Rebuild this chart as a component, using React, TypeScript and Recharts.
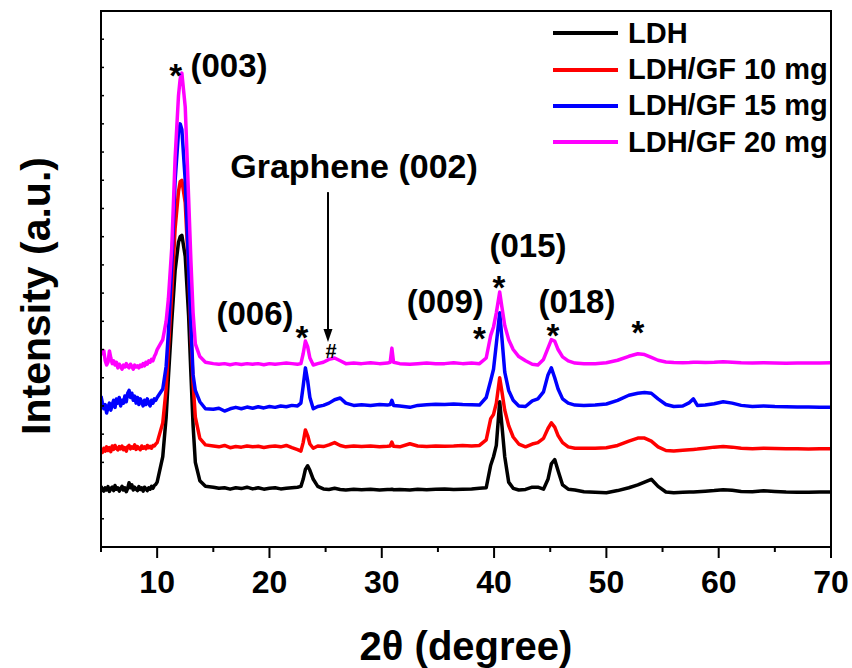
import React from "react";
import {
  LineChart,
  Line,
  XAxis,
  YAxis,
  Label,
  ReferenceDot,
  ReferenceLine,
} from "recharts";

const FONT = '"Liberation Sans", Arial, Helvetica, sans-serif';

// 2θ sampling points (degree)
const twoTheta = [
  5.0, 5.125, 5.25, 5.375, 5.5, 5.625, 5.75, 5.875, 6.0, 6.125, 6.25, 6.375, 6.5, 6.625, 6.75, 6.875, 7.0, 7.125, 7.25, 7.375,
  7.5, 7.625, 7.75, 7.875, 8.0, 8.125, 8.25, 8.375, 8.5, 8.625, 8.75, 8.875, 9.0, 9.125, 9.25, 9.375, 9.5, 9.625, 9.75, 9.875,
  10.0, 10.5, 10.8, 11.0, 11.3, 11.6, 11.9, 12.05, 12.2, 12.5, 12.8, 13.0, 13.2, 13.4, 13.8, 14.3,
  15.0, 15.5, 16.0, 16.5, 17.0, 17.5, 18.0, 18.5, 19.0, 19.5, 20.0, 20.5, 21.0, 21.5, 22.0, 22.5,
  22.8, 23.0, 23.2, 23.4, 23.6, 23.9, 24.3, 24.8, 25.3, 25.8, 26.3, 26.8, 27.5, 28.2, 29.0, 29.8, 30.5,
  30.75, 30.9, 31.05, 31.6, 32.5, 33.2, 34.0, 34.8, 35.6, 36.4, 37.2, 38.0, 38.7, 39.3,
  39.7, 39.95, 40.2, 40.5, 40.7, 40.95, 41.3, 41.7, 42.2, 42.8, 43.4, 43.9, 44.4, 44.8, 45.1, 45.4, 45.7, 46.1, 46.6, 47.2,
  48.0, 49.0, 50.0, 51.0, 52.0, 52.8, 53.4, 54.0, 54.6, 55.3, 56.0, 56.8, 57.4, 57.75, 58.1, 58.8, 59.6, 60.4, 61.2, 62.0, 63.0, 64.0, 65.0, 66.0, 67.0, 68.0, 69.0, 70.0,
];

// intensities (a.u., curves already offset as in the figure)
const ldh = [
  2.15, 2.05, 1.98, 2.1, 2.02, 2.14, 1.97, 2.08, 2.12, 2.0, 2.18, 2.05, 2.1, 1.98, 2.06, 2.15, 2.02, 2.1, 1.96, 2.08,
  2.28, 2.1, 2.2, 2.02, 2.12, 2.05, 2.0, 2.14, 2.04, 2.1, 1.98, 2.12, 2.06, 2.0, 2.1, 2.05, 2.15, 2.08, 2.18, 2.22,
  2.3, 3.2, 4.6, 6.0, 8.0, 9.8, 10.8, 11.0, 11.05, 10.3, 8.2, 6.2, 4.3, 3.0, 2.35, 2.15,
  2.12, 2.08, 2.1, 2.05, 2.1, 2.07, 2.12, 2.06, 2.1, 2.05, 2.08, 2.1, 2.06, 2.08, 2.1, 2.12,
  2.15, 2.4, 2.75, 2.88, 2.72, 2.4, 2.15, 2.06, 2.04, 2.08, 2.04, 2.02, 2.05, 2.03, 2.05, 2.02, 2.04,
  2.04, 2.05, 2.03, 2.04, 2.02, 2.05, 2.03, 2.05, 2.06, 2.04, 2.05, 2.06, 2.08, 2.1,
  2.9, 3.2, 3.6, 5.15, 4.3, 3.2, 2.3, 2.08, 2.02, 2.04, 2.12, 2.12, 2.05, 2.4, 2.95, 3.1, 2.7, 2.2, 2.05, 2.02,
  1.96, 1.94, 1.92, 2.0, 2.1, 2.2, 2.3, 2.4, 2.15, 1.95, 1.92, 1.94, 1.95, 1.95, 1.96, 1.98, 2.0, 2.03, 2.01, 1.97, 1.96, 1.99, 1.97, 1.95, 1.94, 1.94, 1.95, 1.95,
];

const gf10 = [
  3.45, 3.35, 3.5, 3.4, 3.55, 3.42, 3.52, 3.38, 3.58, 3.46, 3.6, 3.5, 3.44, 3.56, 3.48, 3.58, 3.45, 3.52, 3.4, 3.55,
  3.6, 3.48, 3.55, 3.5, 3.62, 3.46, 3.56, 3.5, 3.45, 3.58, 3.5, 3.55, 3.48, 3.6, 3.52, 3.57, 3.5, 3.6, 3.58, 3.65,
  3.7, 4.4, 5.6, 7.0, 9.0, 11.3, 12.6, 12.95, 13.0, 12.2, 9.8, 7.6, 5.8, 4.6, 3.85, 3.62,
  3.58, 3.55, 3.6, 3.52, 3.56, 3.54, 3.58, 3.55, 3.57, 3.53, 3.56, 3.58, 3.55, 3.6, 3.52, 3.45,
  3.4, 3.7, 4.15, 3.95, 3.65, 3.5, 3.58, 3.56, 3.62, 3.7, 3.6, 3.55, 3.58, 3.56, 3.58, 3.55, 3.57,
  3.58, 3.72, 3.57, 3.55, 3.66, 3.58, 3.56, 3.58, 3.57, 3.58, 3.6, 3.58, 3.6, 3.8,
  4.55, 4.7, 5.1, 6.0, 5.5, 4.85, 4.3, 3.9, 3.65, 3.55, 3.65, 3.7, 3.85, 4.2, 4.4, 4.25, 3.95, 3.7, 3.55, 3.5,
  3.5, 3.5, 3.52, 3.6, 3.75, 3.86, 3.86, 3.75, 3.55, 3.42, 3.4, 3.43, 3.45, 3.46, 3.47, 3.5, 3.54, 3.56, 3.54, 3.5, 3.48, 3.5, 3.49, 3.48, 3.48, 3.47, 3.48, 3.48,
];

const gf15 = [
  5.35, 5.1, 4.9, 5.05, 4.75, 4.95, 5.1, 4.85, 5.05, 5.2, 4.95, 5.25, 5.1, 5.3, 5.0, 5.2, 5.1, 5.35, 5.15, 5.45,
  5.55, 5.3, 5.45, 5.2, 5.35, 5.1, 5.3, 5.05, 5.25, 5.15, 5.0, 5.2, 5.05, 5.25, 5.1, 5.0, 5.2, 5.1, 5.25, 5.2,
  5.3, 5.6, 6.4, 7.6, 10.0, 13.0, 14.7, 15.0, 14.8, 13.0, 10.0, 7.9, 6.1, 5.55, 5.15, 4.9,
  4.88, 4.92, 4.82, 4.9, 4.95, 4.9, 4.96, 4.92, 4.97, 4.93, 4.98, 4.95, 5.0, 4.97, 5.02, 5.0,
  5.1, 5.7, 6.35, 5.9, 5.3, 4.9, 4.98, 5.02, 5.1, 5.22, 5.28, 5.1, 5.02, 5.04, 5.02, 5.05, 5.03,
  5.05, 5.2, 5.02, 5.0, 4.95, 5.02, 5.04, 5.06, 5.05, 5.07, 5.05, 5.04, 5.03, 5.3,
  5.9, 6.3, 7.2, 8.3, 7.4, 6.2, 5.55, 5.2, 5.0, 4.98, 5.18, 5.25, 5.5, 6.1, 6.35, 6.0, 5.6, 5.25, 5.1, 5.03,
  5.02, 5.03, 5.07, 5.2, 5.38, 5.45, 5.48, 5.45, 5.25, 5.05, 4.98, 5.0, 5.12, 5.25, 5.02, 5.03, 5.08, 5.15, 5.1, 5.02, 4.98, 5.0, 4.98, 4.97, 4.96, 4.96, 4.95, 4.95,
];

const gf20 = [
  7.0, 6.85, 6.95, 6.6, 6.45, 6.55, 6.95, 6.7, 6.5, 6.6, 6.45, 6.55, 6.35, 6.48, 6.4, 6.3, 6.45, 6.38, 6.5, 6.4,
  6.35, 6.48, 6.4, 6.3, 6.45, 6.38, 6.42, 6.35, 6.45, 6.4, 6.5, 6.42, 6.55, 6.48, 6.6, 6.55, 6.65, 6.6, 6.75, 6.85,
  7.0, 7.35, 8.0, 8.8, 10.6, 13.8, 16.0, 16.6, 16.8, 15.6, 12.4, 10.2, 8.3, 7.2, 6.75, 6.55,
  6.5, 6.48, 6.5, 6.46, 6.5, 6.47, 6.5, 6.48, 6.5, 6.46, 6.5, 6.48, 6.5, 6.52, 6.5, 6.48,
  6.5, 6.85, 7.3, 7.1, 6.7, 6.45, 6.5, 6.55, 6.65, 6.7, 6.6, 6.5, 6.52, 6.5, 6.53, 6.5, 6.52,
  6.55, 7.05, 6.55, 6.5, 6.48, 6.5, 6.52, 6.5, 6.5, 6.53, 6.5, 6.52, 6.5, 6.7,
  7.5, 7.8, 8.3, 9.04, 8.5, 7.85, 7.35, 7.0, 6.75, 6.6, 6.48, 6.45, 6.65, 7.05, 7.35, 7.3, 7.0, 6.74, 6.6, 6.52,
  6.5, 6.5, 6.53, 6.62, 6.76, 6.85, 6.82, 6.72, 6.62, 6.56, 6.54, 6.53, 6.54, 6.55, 6.55, 6.54, 6.55, 6.57, 6.55, 6.53, 6.52, 6.53, 6.52, 6.51, 6.52, 6.52, 6.52, 6.53,
];

const seriesKeys = ["ldh", "gf10", "gf15", "gf20"];
const seriesNames = ["LDH", "LDH/GF 10 mg", "LDH/GF 15 mg", "LDH/GF 20 mg"];
const seriesColors = ["#000000", "#ff0000", "#0000ff", "#ff00ff"];

const xTicks = [5, 10, 15, 20, 25, 30, 35, 40, 45, 50, 55, 60, 65, 70];
const yTicks = [0, 1, 2, 3, 4, 5, 6, 7, 8, 9, 10, 11, 12, 13, 14, 15, 16, 17, 18, 19];

// peak annotations, in data units (2θ, intensity)
const hklText = ["(003)", "Graphene (002)", "(006)", "(009)", "(015)", "(018)"];
const hklX = [16.4, 27.53, 18.71, 35.65, 43.02, 47.38];
const hklY = [16.66, 13.08, 7.87, 8.3, 10.28, 8.3];
const starX = [11.65, 22.9, 38.7, 40.44, 45.25, 52.81];
const starY = [16.3, 7.02, 7.0, 8.79, 7.09, 7.2];
const hashX = [25.48];
const hashY = [6.7];
const arrowX = 25.21;
const arrowFrom = 12.58;
const arrowTo = 7.27;

const data = twoTheta.map((t, i) => ({
  t,
  ldh: ldh[i],
  gf10: gf10[i],
  gf15: gf15[i],
  gf20: gf20[i],
}));

const txt = { fontFamily: FONT, fontWeight: "bold" as const, fill: "#000" };

function BottomTick(props: any) {
  const { x, y, payload } = props;
  const major = payload.value % 10 === 0;
  return (
    <g>
      <line x1={x} x2={x} y1={y} y2={y + (major ? 11 : 5)} stroke="#000" strokeWidth={2} />
      {major && (
        <text x={x} y={y + 46} textAnchor="middle" fontSize={32} {...txt}>
          {payload.value}
        </text>
      )}
    </g>
  );
}

function LeftTick(props: any) {
  const { x, y } = props;
  return <line x1={x} x2={x + 3} y1={y} y2={y} stroke="#000" strokeWidth={1.5} />;
}

function XTitle(props: any) {
  const vb = props.viewBox;
  return (
    <text x={vb.x + vb.width / 2} y={vb.y + 113} textAnchor="middle" fontSize={40} {...txt}>
      2θ (degree)
    </text>
  );
}

function YTitle(props: any) {
  const vb = props.viewBox;
  const cx = vb.x + 50;
  const cy = vb.y + vb.height / 2 + 17;
  return (
    <text
      x={cx}
      y={cy}
      textAnchor="middle"
      fontSize={41}
      transform={`rotate(-90 ${cx} ${cy})`}
      {...txt}
    >
      Intensity (a.u.)
    </text>
  );
}

function Arrow(props: any) {
  const { x1, y1, x2, y2 } = props;
  return (
    <g>
      <line x1={x1} y1={y1} x2={x2} y2={y2 - 10} stroke="#000" strokeWidth={2} />
      <path d={`M${x2 - 4.5},${y2 - 13} L${x2 + 4.5},${y2 - 13} L${x2},${y2} Z`} fill="#000" />
    </g>
  );
}

const textShape = (label: string, size: number) => (p: any) => (
  <text x={p.cx} y={p.cy} textAnchor="middle" fontSize={size} {...txt}>
    {label}
  </text>
);

export default function App() {
  return (
    <div
      style={{
        position: "absolute",
        left: 0,
        top: 0,
        width: 852,
        height: 668,
        background: "#fff",
      }}
    >
      <LineChart width={852} height={668} data={data} margin={{ top: 11, right: 21, left: 0, bottom: 0 }}>
        <XAxis
          xAxisId="b"
          dataKey="t"
          type="number"
          domain={[5, 70]}
          ticks={xTicks}
          interval={0}
          allowDataOverflow
          height={121}
          tickSize={0}
          tickMargin={0}
          tickLine={false}
          axisLine={{ stroke: "#000", strokeWidth: 2 }}
          tick={BottomTick}
        >
          <Label content={XTitle} />
        </XAxis>
        <YAxis
          yAxisId="l"
          type="number"
          domain={[0, 19]}
          ticks={yTicks}
          interval={0}
          allowDataOverflow
          width={101}
          tickSize={0}
          tickMargin={0}
          tickLine={false}
          axisLine={{ stroke: "#000", strokeWidth: 2 }}
          tick={LeftTick}
        >
          <Label content={YTitle} />
        </YAxis>
        {seriesKeys.map((k, i) => (
          <Line
            key={k}
            xAxisId="b"
            yAxisId="l"
            type="linear"
            dataKey={k}
            name={seriesNames[i]}
            stroke={seriesColors[i]}
            strokeWidth={3.5}
            strokeLinejoin="round"
            dot={false}
            activeDot={false}
            isAnimationActive={false}
          />
        ))}
        <ReferenceLine
          xAxisId="b"
          yAxisId="l"
          segment={[
            { x: arrowX, y: arrowFrom },
            { x: arrowX, y: arrowTo },
          ]}
          shape={Arrow}
        />
        {hklText.map((s, i) => (
          <ReferenceDot
            key={s}
            xAxisId="b"
            yAxisId="l"
            x={hklX[i]}
            y={hklY[i]}
            r={0}
            shape={textShape(s, s.length > 6 ? 34 : 33)}
          />
        ))}
        {starX.map((sx, i) => (
          <ReferenceDot key={"s" + i} xAxisId="b" yAxisId="l" x={sx} y={starY[i]} r={0} shape={textShape("*", 33)} />
        ))}
        {hashX.map((hx, i) => (
          <ReferenceDot key={"h" + i} xAxisId="b" yAxisId="l" x={hx} y={hashY[i]} r={0} shape={textShape("#", 20)} />
        ))}
      </LineChart>
      {/* top and right edges of the plot box */}
      <div
        style={{
          position: "absolute",
          left: 100,
          top: 10,
          width: 732,
          height: 537,
          boxSizing: "border-box",
          borderTop: "2px solid #000",
          borderRight: "2px solid #000",
          pointerEvents: "none",
          zIndex: 5,
        }}
      />
      <div style={{ position: "absolute", left: 553, top: 15, zIndex: 6 }}>
        {seriesNames.map((n, i) => (
          <div key={n} style={{ display: "flex", alignItems: "center", height: 36.4 }}>
            <div style={{ width: 65, height: 4, background: seriesColors[i] }} />
            <span
              style={{
                marginLeft: 10,
                fontFamily: FONT,
                fontWeight: "bold",
                fontSize: 29,
                lineHeight: 1,
                color: "#000",
                whiteSpace: "nowrap",
              }}
            >
              {n}
            </span>
          </div>
        ))}
      </div>
    </div>
  );
}
